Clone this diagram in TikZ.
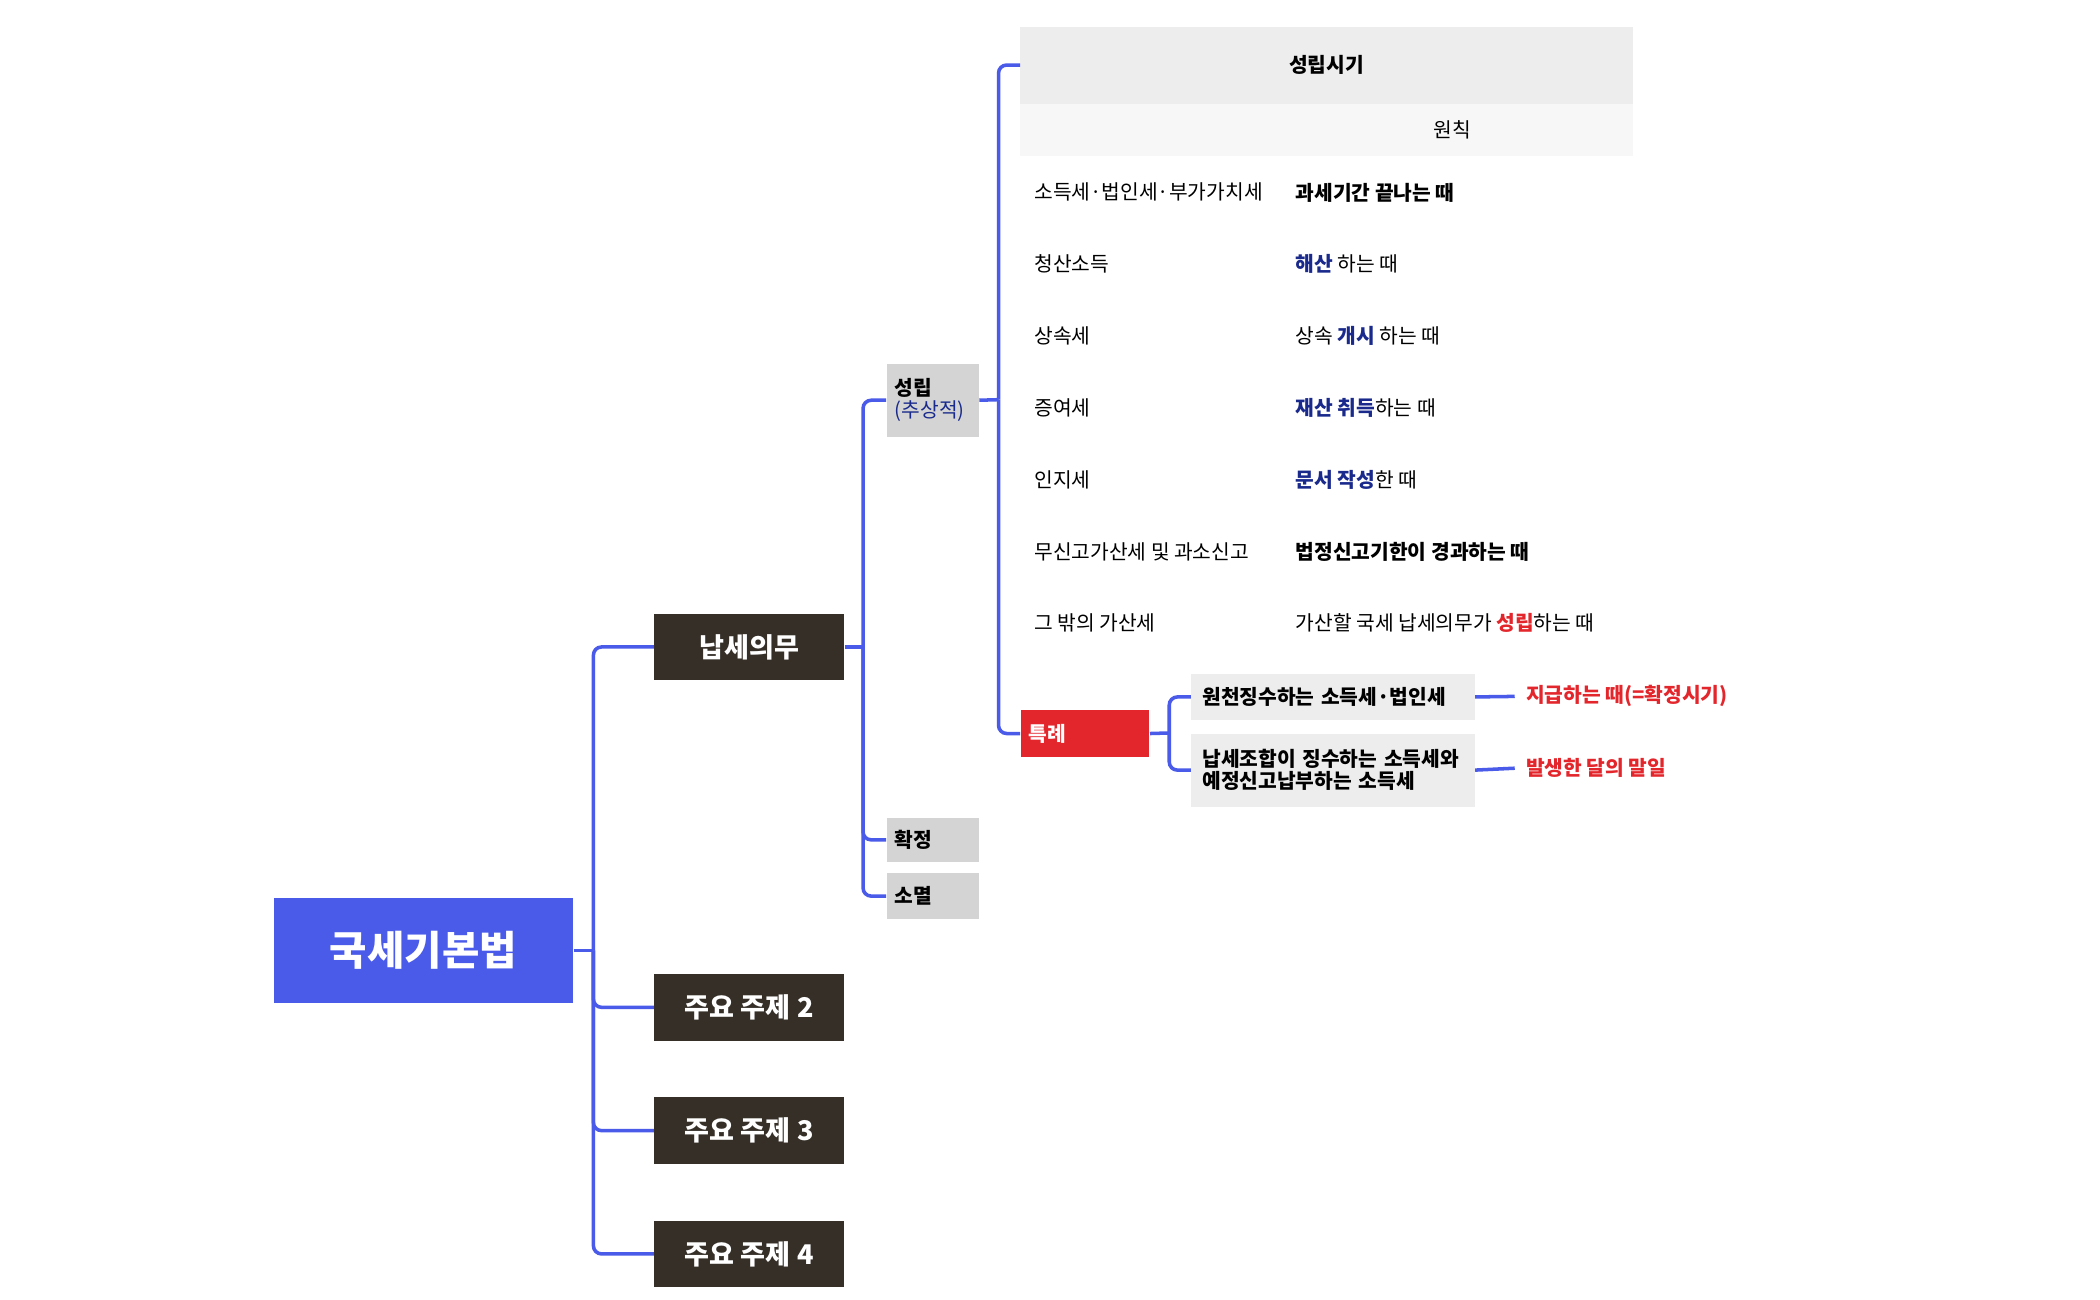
\documentclass[tikz,border=0pt]{standalone}
\usepackage{fontspec}
\setmainfont{Noto Sans CJK KR}
\newfontfamily\boldkr{Noto Sans CJK KR Bold}
\usetikzlibrary{positioning}
\definecolor{rootblue}{HTML}{4A5BEA}
\definecolor{darkbox}{HTML}{352F28}
\definecolor{linkblue}{HTML}{4A5BEA}
\definecolor{navy}{HTML}{1A2A8C}
\definecolor{hotred}{HTML}{E3262B}
\begin{document}
\begin{tikzpicture}[x=0.5pt,y=-0.5pt,
    link/.style={draw=linkblue, line width=1.3pt, rounded corners=3pt},
    topic/.style={fill=darkbox, text=white, minimum width=70pt, minimum height=24.5pt, inner sep=0pt, font=\fontsize{10}{12}\selectfont},
    sub/.style={fill=black!17, anchor=north west, minimum width=34pt, inner sep=0pt, font=\fontsize{7.5}{9}\selectfont\bfseries, align=left},
    cell/.style={anchor=west, inner sep=0pt, font=\fontsize{7.5}{9}\selectfont},
    special/.style={fill=black!7, anchor=north west, minimum width=104.5pt, inner sep=0pt, font=\fontsize{7.5}{9}\selectfont\bfseries, align=left},
    note/.style={anchor=west, inner sep=0pt, text=hotred, font=\fontsize{7.5}{9}\selectfont\bfseries}
]
\useasboundingbox (0,0) rectangle (1550,959);
% --- Wurzel ---
\node[fill=rootblue, text=white, minimum width=110.5pt, minimum height=38.5pt, inner sep=0pt,
  font=\fontsize{15}{18}\selectfont\bfseries] (root) at (312.5,701.5) {국세기본법};
% --- Hauptthemen ---
\node[topic] (duty) at (553,477.5) {\bfseries 납세의무};
\node[topic] (t2) at (553,743.5) {\bfseries 주요 주제 2};
\node[topic] (t3) at (553,834.5) {\bfseries 주요 주제 3};
\node[topic] (t4) at (553,925.5) {\bfseries 주요 주제 4};
\coordinate (bus) at (438,701.5);
\draw[link] (root.east) -- (bus);
\foreach \t in {duty,t2,t3,t4}
  \draw[link] (bus) |- (\t.west);
% --- Unterpunkte ---
\node[sub, minimum height=27pt, inner sep=3pt, text width=28pt] (birth) at (654,268) {성립\\[-1pt]{\mdseries\color{navy}(추상적)}};
\node[sub, minimum height=16.5pt, inner sep=3pt, text width=28pt] (fix) at (654,603) {확정};
\node[sub, minimum height=17pt, inner sep=3pt, text width=28pt] (end) at (654,644) {소멸};
\coordinate (dbus) at (637,477.5);
\draw[link] (duty.east) -- (dbus);
\foreach \s in {birth,fix,end}
  \draw[link] (dbus) |- (\s.west);
% --- Tabelle ---
\fill[black!7] (753,20) rectangle (1205,77);
\fill[black!3] (753,77) rectangle (1205,115);
\node[inner sep=0pt, font=\fontsize{7.5}{9}\selectfont\bfseries] (head) at (979,48) {성립시기};
\coordinate (headw) at (753,48);
\node[inner sep=0pt, font=\fontsize{7.5}{9}\selectfont] (rule) at (1072,96) {원칙};
\foreach \y/\l/\r [count=\i] in {
  142/소득세·법인세·부가가치세/{\bfseries 과세기간 끝나는 때},
  195/청산소득/{{\bfseries\color{navy}해산} 하는 때},
  248/상속세/{상속 {\bfseries\color{navy}개시} 하는 때},
  301/증여세/{{\bfseries\color{navy}재산 취득}하는 때},
  354/인지세/{{\bfseries\color{navy}문서 작성}한 때},
  407/무신고가산세 및 과소신고/{\bfseries 법정신고기한이 경과하는 때},
  460/그 밖의 가산세/{가산할 국세 납세의무가 {\bfseries\color{hotred}성립}하는 때}} {
  \node[cell] (tax\i) at (763,\y) {\l};
  \node[cell] (time\i) at (956,\y) {\r};
}
% --- Sonderfall ---
\node[fill=hotred, text=white, anchor=north west, minimum width=47.5pt, minimum height=17pt, inner sep=3pt,
  font=\fontsize{7.5}{9}\selectfont\bfseries, text width=41.5pt, align=left] (case) at (753,524) {특례};
\coordinate (bbus) at (737,295);
\draw[link] (birth.east) -- (bbus);
\draw[link] (bbus) |- (headw);
\draw[link] (bbus) |- (case.west);
\node[special, minimum height=17pt, inner sep=4pt, text width=96.5pt] (wh) at (879,497) {원천징수하는 소득세·법인세};
\node[special, minimum height=27pt, inner sep=4pt, text width=96.5pt] (un) at (879,541) {납세조합이 징수하는 소득세와\\[-1pt]예정신고납부하는 소득세};
\coordinate (cbus) at (863,541);
\draw[link] (case.east) -- (cbus);
\draw[link] (cbus) |- (wh.west);
\draw[link] (cbus) |- (un.west);
\node[note] (pay) at (1126,514) {지급하는 때(=확정시기)};
\node[note] (mon) at (1126,567) {발생한 달의 말일};
\draw[link] (wh.east) -- ([xshift=-4pt]pay.west);
\draw[link] (un.east) -- ([xshift=-4pt]mon.west);
\end{tikzpicture}
\end{document}
